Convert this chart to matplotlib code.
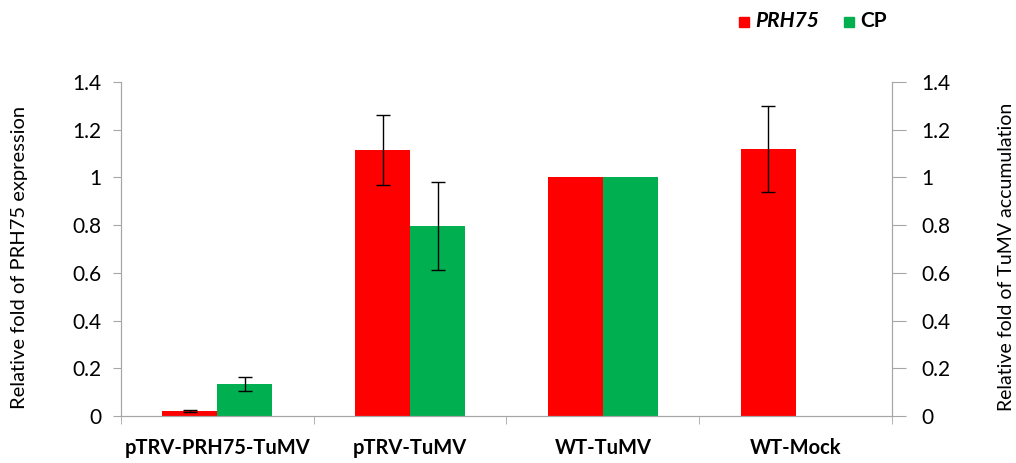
import matplotlib.pyplot as plt
import numpy as np
from matplotlib.patches import Patch

categories = ["pTRV-PRH75-TuMV", "pTRV-TuMV", "WT-TuMV", "WT-Mock"]
prh75 = [0.02, 1.115, 1.0, 1.12]
prh75_err = [0.005, 0.145, 0.0, 0.18]
cp = [0.135, 0.795, 1.0, 0.0]
cp_err = [0.03, 0.185, 0.0, 0.0]
yticks = [0, 0.2, 0.4, 0.6, 0.8, 1, 1.2, 1.4]
yticklabels = ["0", "0.2", "0.4", "0.6", "0.8", "1", "1.2", "1.4"]

plt.rcParams["font.family"] = ["Lato", "DejaVu Sans"]
red = "#ff0000"
green = "#00b050"
grey = "#a6a6a6"

fig = plt.figure(figsize=(10.16, 4.63), dpi=100)
ax = fig.add_axes([0.119, 0.1015, 0.759, 0.7215])

x = np.arange(len(categories))
w = 0.285
ax.bar(x - w / 2, prh75, w, color=red, zorder=2)
ax.bar(x + w / 2, cp, w, color=green, zorder=2)
for xi, v, e in zip(x - w / 2, prh75, prh75_err):
    if e > 0:
        ax.errorbar(xi, v, yerr=e, color="black", capsize=5, lw=1, zorder=3)
for xi, v, e in zip(x + w / 2, cp, cp_err):
    if e > 0:
        ax.errorbar(xi, v, yerr=e, color="black", capsize=5, lw=1, zorder=3)

ax.set_xlim(-0.5, len(categories) - 0.5)
ax.set_ylim(0, 1.4)
ax.set_yticks(yticks)
ax.set_yticklabels(yticklabels, fontsize=15)
ax.set_xticks(x)
ax.set_xticklabels(categories, fontsize=14.5, fontweight="bold")
ax.set_xticks(np.arange(-0.5, len(categories)), minor=True)
ax.tick_params(axis="x", which="major", length=0, pad=16)
ax.tick_params(axis="x", which="minor", length=6, color=grey)
ax.tick_params(axis="y", length=6, color=grey, pad=8)
ax.set_ylabel("Relative fold of PRH75 expression", fontsize=14.5)
ax.yaxis.set_label_coords(-0.121, 0.475)

ax.spines["top"].set_visible(False)
for side in ["left", "right", "bottom"]:
    ax.spines[side].set_color(grey)

ax2 = ax.twinx()
ax2.set_ylim(0, 1.4)
ax2.set_yticks(yticks)
ax2.set_yticklabels(yticklabels, fontsize=15)
ax2.tick_params(axis="y", length=10, color=grey, pad=11)
ax2.spines["top"].set_visible(False)
for side in ["left", "right", "bottom"]:
    ax2.spines[side].set_color(grey)
ax2.set_ylabel("Relative fold of TuMV accumulation", fontsize=14)
ax2.yaxis.set_label_coords(1.137, 0.475)

handles = [Patch(color=red), Patch(color=green)]
leg = fig.legend(handles, ["PRH75", "CP"], loc="center", bbox_to_anchor=(0.80, 0.955),
                 ncol=2, frameon=False, handlelength=0.7, handleheight=0.7,
                 columnspacing=1.8, handletextpad=0.45)
for t in leg.get_texts():
    t.set_fontsize(15)
    t.set_fontweight("bold")
leg.get_texts()[0].set_style("italic")

fig.savefig("out.png", dpi=100)
